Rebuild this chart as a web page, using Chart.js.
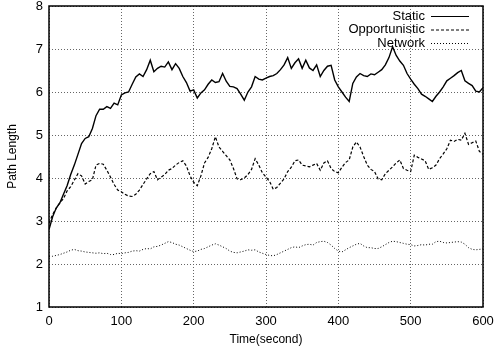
<!DOCTYPE html>
<html lang="en">
<head>
    <meta charset="UTF-8">
    <title>Path Length over Time</title>
    <script src="https://cdn.jsdelivr.net/npm/chart.js"></script>
    <style>
        html, body { margin: 0; padding: 0; background: #fff; }
        #wrap { width: 495px; height: 350px; }
    </style>
</head>
<body>
    <div id="wrap"><canvas id="pathChart" width="495" height="350"></canvas></div>

    <script>
        // time axis (seconds)
        const timeSec = [0, 5, 10, 15, 20, 25, 30, 35, 40, 45, 50, 55, 60, 65, 70, 75, 80, 85, 90, 95,
            100, 105, 110, 115, 120, 125, 130, 135, 140, 145, 150, 155, 160, 165, 170, 175, 180, 185, 190, 195,
            200, 205, 210, 215, 220, 225, 230, 235, 240, 245, 250, 255, 260, 265, 270, 275, 280, 285, 290, 295,
            300, 305, 310, 315, 320, 325, 330, 335, 340, 345, 350, 355, 360, 365, 370, 375, 380, 385, 390, 395,
            400, 405, 410, 415, 420, 425, 430, 435, 440, 445, 450, 455, 460, 465, 470, 475, 480, 485, 490, 495,
            500, 505, 510, 515, 520, 525, 530, 535, 540, 545, 550, 555, 560, 565, 570, 575, 580, 585, 590, 595, 600];

        const staticPath = [2.8, 3.1, 3.3, 3.42, 3.62, 3.82, 4.08, 4.3, 4.55, 4.8, 4.92, 4.96, 5.15, 5.45, 5.6, 5.6, 5.66, 5.62, 5.74, 5.7,
            5.93, 5.98, 6.0, 6.18, 6.35, 6.42, 6.36, 6.52, 6.74, 6.47, 6.55, 6.6, 6.58, 6.7, 6.52, 6.66, 6.55, 6.36, 6.22, 6.02,
            6.05, 5.86, 5.98, 6.05, 6.18, 6.28, 6.22, 6.24, 6.43, 6.25, 6.13, 6.12, 6.08, 5.95, 5.81, 6.0, 6.12, 6.36, 6.3, 6.28,
            6.32, 6.36, 6.38, 6.43, 6.52, 6.63, 6.8, 6.55, 6.68, 6.77, 6.55, 6.74, 6.56, 6.5, 6.63, 6.36, 6.5, 6.6, 6.62, 6.28,
            6.12, 6.0, 5.88, 5.78, 6.2, 6.35, 6.43, 6.38, 6.36, 6.42, 6.4, 6.46, 6.52, 6.63, 6.8, 7.05, 6.85, 6.72, 6.62, 6.43,
            6.3, 6.18, 6.08, 5.95, 5.9, 5.84, 5.78, 5.9, 6.0, 6.12, 6.26, 6.32, 6.38, 6.45, 6.5, 6.26, 6.2, 6.15, 6.02, 6.0, 6.1];

        const opportunisticPath = [2.95, 3.15, 3.3, 3.42, 3.52, 3.7, 3.8, 3.95, 4.1, 4.05, 3.86, 3.92, 3.96, 4.3, 4.34, 4.32, 4.18, 4.02, 3.85, 3.72,
            3.68, 3.62, 3.58, 3.57, 3.62, 3.72, 3.85, 3.98, 4.1, 4.15, 3.96, 4.02, 4.08, 4.18, 4.22, 4.3, 4.36, 4.4, 4.28, 4.05,
            3.9, 3.82, 4.05, 4.35, 4.48, 4.68, 4.96, 4.72, 4.62, 4.52, 4.42, 4.22, 3.98, 3.96, 4.0, 4.08, 4.2, 4.45, 4.3, 4.12,
            4.02, 3.92, 3.74, 3.78, 3.88, 3.98, 4.15, 4.25, 4.4, 4.42, 4.3, 4.28, 4.26, 4.3, 4.34, 4.18, 4.35, 4.4, 4.22, 4.15,
            4.12, 4.25, 4.36, 4.42, 4.72, 4.84, 4.72, 4.5, 4.3, 4.2, 4.15, 3.98, 3.96, 4.1, 4.18, 4.26, 4.35, 4.42, 4.22, 4.18,
            4.15, 4.53, 4.48, 4.44, 4.4, 4.2, 4.24, 4.3, 4.45, 4.56, 4.68, 4.88, 4.85, 4.9, 4.88, 5.04, 4.78, 4.82, 4.86, 4.62, 4.55];

        const networkPath = [2.17, 2.18, 2.2, 2.22, 2.25, 2.28, 2.32, 2.34, 2.31, 2.3, 2.28, 2.27, 2.26, 2.25, 2.26, 2.24, 2.25, 2.22, 2.22, 2.25,
            2.24, 2.26, 2.27, 2.3, 2.31, 2.3, 2.34, 2.36, 2.35, 2.4, 2.41, 2.44, 2.48, 2.52, 2.5, 2.46, 2.44, 2.4, 2.36, 2.32,
            2.29, 2.3, 2.34, 2.36, 2.4, 2.44, 2.47, 2.44, 2.4, 2.36, 2.3, 2.27, 2.26, 2.28, 2.3, 2.33, 2.32, 2.33, 2.28, 2.25,
            2.22, 2.2, 2.19, 2.22, 2.26, 2.3, 2.34, 2.38, 2.4, 2.38, 2.42, 2.45, 2.46, 2.44, 2.5, 2.52, 2.53, 2.5, 2.44, 2.36,
            2.3, 2.28, 2.33, 2.38, 2.42, 2.46, 2.48, 2.42, 2.38, 2.38, 2.36, 2.36, 2.4, 2.45, 2.5, 2.53, 2.52, 2.5, 2.48, 2.46,
            2.45, 2.42, 2.43, 2.45, 2.44, 2.46, 2.46, 2.52, 2.53, 2.5, 2.49, 2.5, 2.51, 2.52, 2.51, 2.46, 2.38, 2.34, 2.33, 2.34, 2.35];

        const seriesNames = ['Static', 'Opportunistic', 'Network'];
        const xTicks = [0, 100, 200, 300, 400, 500, 600];
        const yTicks = [1, 2, 3, 4, 5, 6, 7, 8];

        const FONT = 'Liberation Sans, Arial, sans-serif';

        function pts(vals) {
            return vals.map((v, i) => ({ x: timeSec[i], y: v }));
        }

        // gnuplot style frame around the plot
        const framePlugin = {
            id: 'frame',
            afterDatasetsDraw(chart) {
                const a = chart.chartArea;
                const ctx = chart.ctx;
                ctx.save();
                ctx.strokeStyle = '#000';
                ctx.lineWidth = 1.5;
                ctx.setLineDash([]);
                ctx.strokeRect(a.left, a.top, a.right - a.left, a.bottom - a.top);
                ctx.restore();
            }
        };

        // legend inside the top-right corner, text left of the line sample
        const keyPlugin = {
            id: 'key',
            afterDatasetsDraw(chart) {
                const ctx = chart.ctx;
                ctx.save();
                ctx.font = '13px ' + FONT;
                ctx.fillStyle = '#000';
                ctx.textAlign = 'right';
                ctx.textBaseline = 'middle';
                chart.data.datasets.forEach((ds, i) => {
                    const y = 16 + i * 13.5;
                    ctx.fillText(ds.label, 425, y);
                    ctx.strokeStyle = '#000';
                    ctx.lineWidth = 1;
                    ctx.setLineDash(ds.borderDash || []);
                    ctx.beginPath();
                    ctx.moveTo(431, y + 0.5);
                    ctx.lineTo(469, y + 0.5);
                    ctx.stroke();
                });
                ctx.restore();
            }
        };

        const ctx = document.getElementById('pathChart').getContext('2d');
        new Chart(ctx, {
            type: 'line',
            data: {
                datasets: [
                    { label: seriesNames[0], data: pts(staticPath), borderColor: '#000', borderWidth: 1.4, borderDash: [] },
                    { label: seriesNames[1], data: pts(opportunisticPath), borderColor: '#000', borderWidth: 1.2, borderDash: [3, 2] },
                    { label: seriesNames[2], data: pts(networkPath), borderColor: '#000', borderWidth: 1, borderDash: [1, 2] }
                ]
            },
            options: {
                responsive: false,
                animation: false,
                devicePixelRatio: 1,
                layout: { padding: { left: 0, right: 12, top: 6, bottom: 0 } },
                elements: { point: { radius: 0 }, line: { tension: 0 } },
                plugins: { legend: { display: false }, tooltip: { enabled: false } },
                scales: {
                    x: {
                        type: 'linear',
                        min: 0,
                        max: 600,
                        afterBuildTicks(scale) { scale.ticks = xTicks.map(v => ({ value: v })); },
                        afterFit(scale) {
                            scale.height = 43;
                            scale.paddingLeft = 0;
                            scale.paddingRight = 0;
                        },
                        grid: { color: '#666', drawTicks: false },
                        border: { display: false, dash: [1, 2] },
                        ticks: { color: '#000', padding: 7, font: { family: FONT, size: 13 } },
                        title: { display: true, text: 'Time(second)', color: '#000', padding: { top: 0, bottom: 3 }, font: { family: FONT, size: 12 } }
                    },
                    y: {
                        min: 1,
                        max: 8,
                        afterBuildTicks(scale) { scale.ticks = yTicks.map(v => ({ value: v })); },
                        afterFit(scale) {
                            scale.width = 49;
                            scale.paddingTop = 0;
                            scale.paddingBottom = 0;
                        },
                        grid: { color: '#666', drawTicks: false },
                        border: { display: false, dash: [1, 2] },
                        ticks: { color: '#000', padding: 6, font: { family: FONT, size: 13 } },
                        title: { display: true, text: 'Path Length', color: '#000', padding: { top: 5, bottom: 0 }, font: { family: FONT, size: 12 } }
                    }
                }
            },
            plugins: [framePlugin, keyPlugin]
        });
    </script>
</body>
</html>
